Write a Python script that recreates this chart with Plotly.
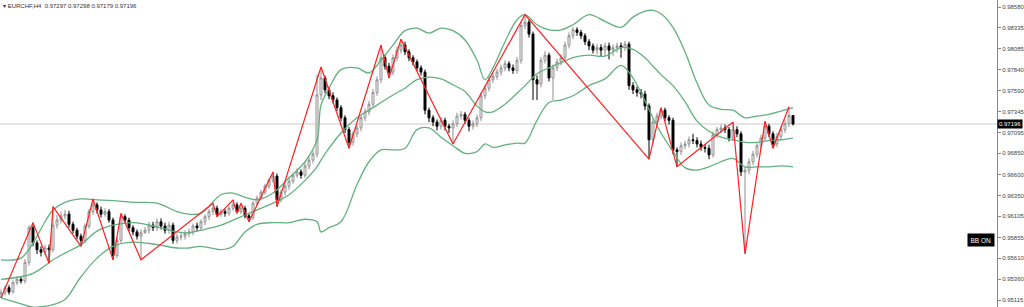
import plotly.graph_objects as go

# ---- candle data (price x 10000), one entry per H4 bar ----
first_open = 9515
closes = [9520, 9526, 9521, 9532, 9536, 9534, 9556, 9597, 9579, 9571,
          9568, 9573, 9571, 9600, 9606, 9611, 9613, 9601, 9594, 9587,
          9582, 9599, 9616, 9624, 9618, 9613, 9616, 9606, 9564, 9582,
          9610, 9606, 9597, 9592, 9587, 9591, 9594, 9600, 9597, 9604,
          9599, 9594, 9600, 9582, 9586, 9587, 9590, 9592, 9599, 9597,
          9604, 9610, 9616, 9620, 9613, 9616, 9614, 9620, 9624, 9616,
          9620, 9611, 9609, 9626, 9632, 9639, 9646, 9653, 9658, 9630,
          9639, 9646, 9652, 9659, 9663, 9659, 9670, 9677, 9684, 9754,
          9774, 9760, 9753, 9748, 9739, 9727, 9713, 9698, 9708, 9715,
          9727, 9734, 9743, 9757, 9772, 9798, 9788, 9781, 9798, 9807,
          9813, 9805, 9798, 9793, 9786, 9781, 9736, 9727, 9722, 9717,
          9724, 9717, 9715, 9720, 9729, 9731, 9724, 9717, 9720, 9727,
          9753, 9762, 9772, 9776, 9781, 9786, 9791, 9786, 9783, 9795,
          9836, 9840, 9826, 9772, 9767, 9795, 9801, 9774, 9786, 9793,
          9798, 9813, 9824, 9831, 9828, 9824, 9817, 9812, 9807, 9810,
          9807, 9812, 9807, 9810, 9812, 9810, 9814, 9765, 9760, 9757,
          9755, 9741, 9701, 9722, 9729, 9736, 9727, 9724, 9689, 9687,
          9694, 9696, 9701, 9700, 9696, 9692, 9691, 9683, 9707, 9713,
          9715, 9713, 9703, 9713, 9708, 9663, 9665, 9675, 9684, 9694,
          9703, 9717, 9708, 9696, 9705, 9713, 9720, 9729.7, 9719.6]
highs = [9524, 9529, 9529, 9535, 9540, 9540, 9560, 9600, 9603, 9582,
         9575, 9577, 9577, 9622, 9612, 9616, 9618, 9617, 9604, 9597,
         9590, 9602, 9619, 9631, 9627, 9622, 9620, 9619, 9609, 9586,
         9614, 9613, 9609, 9600, 9595, 9595, 9598, 9604, 9604, 9608,
         9608, 9603, 9604, 9603, 9590, 9592, 9594, 9596, 9602, 9603,
         9607, 9613, 9619, 9626, 9623, 9619, 9619, 9623, 9630, 9627,
         9626, 9623, 9614, 9629, 9635, 9642, 9649, 9656, 9663, 9661,
         9642, 9649, 9656, 9662, 9667, 9666, 9674, 9681, 9688, 9778,
         9787, 9777, 9764, 9757, 9751, 9742, 9730, 9716, 9711, 9718,
         9730, 9738, 9747, 9761, 9776, 9813, 9802, 9792, 9802, 9811,
         9820, 9817, 9808, 9801, 9796, 9789, 9784, 9739, 9730, 9725,
         9728, 9727, 9720, 9724, 9733, 9735, 9734, 9727, 9724, 9731,
         9757, 9766, 9776, 9780, 9785, 9790, 9795, 9794, 9790, 9799,
         9840, 9849, 9843, 9829, 9777, 9799, 9806, 9804, 9790, 9797,
         9802, 9817, 9828, 9834, 9834, 9831, 9827, 9820, 9815, 9814,
         9814, 9816, 9816, 9814, 9816, 9816, 9818, 9817, 9769, 9764,
         9761, 9759, 9744, 9726, 9733, 9739, 9739, 9730, 9727, 9692,
         9698, 9700, 9705, 9708, 9704, 9700, 9696, 9695, 9711, 9716,
         9719, 9719, 9716, 9722, 9717, 9711, 9669, 9679, 9688, 9697,
         9707, 9723, 9720, 9711, 9709, 9717, 9724, 9740, 9729.8]
lows = [9514, 9517, 9518, 9519, 9529, 9531, 9531, 9552, 9575, 9566,
        9563, 9564, 9555, 9568, 9596, 9602, 9607, 9597, 9590, 9583,
        9575, 9579, 9596, 9612, 9614, 9609, 9610, 9603, 9559, 9561,
        9579, 9602, 9593, 9588, 9583, 9559, 9590, 9590, 9593, 9593,
        9595, 9590, 9590, 9578, 9578, 9582, 9583, 9586, 9588, 9593,
        9593, 9600, 9606, 9612, 9610, 9610, 9610, 9611, 9617, 9614,
        9613, 9608, 9604, 9606, 9623, 9629, 9636, 9643, 9650, 9622,
        9627, 9635, 9642, 9649, 9656, 9655, 9656, 9666, 9673, 9680,
        9748, 9756, 9749, 9744, 9735, 9723, 9709, 9691, 9694, 9704,
        9711, 9723, 9730, 9740, 9753, 9768, 9784, 9774, 9777, 9794,
        9803, 9801, 9794, 9789, 9782, 9777, 9731, 9722, 9717, 9712,
        9713, 9712, 9709, 9696, 9716, 9725, 9720, 9711, 9713, 9716,
        9723, 9749, 9758, 9768, 9772, 9777, 9782, 9782, 9779, 9779,
        9791, 9832, 9822, 9748, 9748, 9763, 9791, 9770, 9748, 9782,
        9789, 9794, 9809, 9820, 9824, 9820, 9813, 9807, 9803, 9802,
        9800, 9800, 9796, 9800, 9804, 9798, 9806, 9760, 9755, 9752,
        9750, 9736, 9678, 9696, 9718, 9725, 9723, 9719, 9684, 9669,
        9683, 9690, 9692, 9696, 9692, 9688, 9686, 9678, 9680, 9703,
        9709, 9709, 9699, 9700, 9704, 9658, 9566, 9660, 9671, 9680,
        9690, 9700, 9704, 9691, 9692, 9701, 9709, 9716, 9717.9]

# ---- ZigZag pivots (bar index, price x 10000) ----
zz_idx = [0, 8, 12, 13, 20, 23, 28, 30, 35, 53, 54, 58, 59, 60, 62, 68, 69,
          80, 87, 95, 97, 100, 113, 131, 162, 165, 169, 183, 186, 191, 193, 197]
zz_price = [9514, 9603, 9555, 9622, 9575, 9631, 9559, 9614, 9559, 9626, 9610,
            9630, 9614, 9626, 9604, 9663, 9622, 9787, 9691, 9813, 9774, 9820,
            9696, 9849, 9678, 9739, 9669, 9722, 9566, 9723, 9691, 9740]

# ---- Bollinger bands sampled at bar indices (price x 10000) ----
bb_idx = [0, 5, 8, 11, 13, 16, 20, 24, 28, 33, 39, 44, 47, 50, 55, 58, 61, 64,
          68, 72, 76, 79, 80, 82, 85, 89, 92, 95, 98, 101, 104, 107, 110, 113,
          116, 119, 121, 123, 126, 129, 131, 134, 137, 140, 143, 147, 151, 155,
          158, 161, 163, 165, 168, 171, 174, 177, 180, 183, 186, 189, 192, 195, 198]
bb_upper = [9559, 9561, 9579, 9604, 9618, 9627, 9631, 9630, 9629, 9627, 9626,
            9616, 9613, 9614, 9636, 9638, 9633, 9630, 9638, 9656, 9675, 9701,
            9742, 9762, 9784, 9786, 9780, 9795, 9813, 9830, 9833, 9827, 9833,
            9830, 9819, 9795, 9772, 9786, 9817, 9843, 9849, 9837, 9831, 9831,
            9837, 9849, 9841, 9834, 9846, 9853, 9854, 9850, 9834, 9805, 9768,
            9742, 9737, 9736, 9727, 9729, 9731, 9735, 9739]
bb_middle = [9536, 9539, 9543, 9552, 9559, 9567, 9577, 9593, 9600, 9603, 9598,
             9592, 9591, 9594, 9600, 9606, 9612, 9618, 9626, 9636, 9653, 9669,
             9677, 9691, 9709, 9727, 9736, 9745, 9754, 9762, 9772, 9775, 9773,
             9766, 9758, 9741, 9734, 9734, 9743, 9756, 9765, 9779, 9786, 9792,
             9798, 9801, 9800, 9810, 9808, 9798, 9788, 9778, 9765, 9746, 9723,
             9711, 9704, 9701, 9698, 9698, 9700, 9701, 9703]
bb_lower = [9514, 9507, 9503, 9504, 9506, 9512, 9539, 9561, 9575, 9580, 9577,
            9573, 9573, 9575, 9571, 9575, 9592, 9601, 9603, 9603, 9607, 9604,
            9592, 9597, 9604, 9648, 9675, 9689, 9689, 9691, 9713, 9715, 9704,
            9694, 9685, 9687, 9696, 9692, 9695, 9697, 9697, 9724, 9745, 9748,
            9753, 9765, 9773, 9789, 9774, 9747, 9727, 9709, 9687, 9668, 9665,
            9669, 9675, 9679, 9669, 9669, 9669, 9670, 9669]

# ---- axis ticks / labels ----
tick_values = [0.98580, 0.98335, 0.98085, 0.97840, 0.97590, 0.97345, 0.97095,
               0.96850, 0.96600, 0.96350, 0.96105, 0.95855, 0.95610, 0.95360, 0.95115]
symbol = "EURCHF,H4"
last_open, last_high, last_low, last_close = 0.97297, 0.97298, 0.97179, 0.97196

S = 1e-4
opens = [first_open] + closes[:-1]
idx = list(range(len(closes)))

fig = go.Figure()

band_color = "#62b17f"
for vals in (bb_upper, bb_middle, bb_lower):
    fig.add_trace(go.Scatter(x=bb_idx, y=[v * S for v in vals], mode="lines",
                             line=dict(color=band_color, width=1.3, shape="spline", smoothing=1.0),
                             hoverinfo="skip", showlegend=False))

fig.add_trace(go.Candlestick(
    x=idx,
    open=[v * S for v in opens], high=[v * S for v in highs],
    low=[v * S for v in lows], close=[v * S for v in closes],
    increasing=dict(line=dict(color="#8f8f8f", width=1), fillcolor="#ffffff"),
    decreasing=dict(line=dict(color="#000000", width=1), fillcolor="#000000"),
    whiskerwidth=0, showlegend=False, hoverinfo="skip"))

fig.add_trace(go.Scatter(x=zz_idx, y=[v * S for v in zz_price], mode="lines",
                         line=dict(color="#ff2020", width=1.2),
                         hoverinfo="skip", showlegend=False))

fig.add_shape(type="line", xref="paper", x0=0, x1=1, yref="y",
              y0=last_close, y1=last_close, line=dict(color="#cccccc", width=1), layer="below")

fig.update_layout(
    width=1024, height=307,
    margin=dict(l=0, r=27, t=0, b=0),
    paper_bgcolor="white", plot_bgcolor="white",
    font=dict(family="Liberation Sans", size=6, color="#444444"),
    xaxis=dict(range=[-0.25, 249.0], showgrid=False, zeroline=False,
               showticklabels=False, rangeslider=dict(visible=False), fixedrange=True),
    yaxis=dict(range=[0.950322, 0.986628], side="right", showgrid=False, zeroline=False,
               tickvals=tick_values, ticktext=[f"{v:.5f}" for v in tick_values],
               ticks="outside", ticklen=3, tickcolor="#888888",
               showline=True, linecolor="#888888", linewidth=1,
               tickfont=dict(size=6, color="#444444"), fixedrange=True),
    annotations=[
        dict(xref="paper", yref="paper", x=0.001, y=0.998, xanchor="left", yanchor="top",
             text=f"▾ {symbol}  {last_open:.5f} {last_high:.5f} {last_low:.5f} {last_close:.5f}",
             showarrow=False, font=dict(size=6, color="#333333")),
        dict(xref="paper", yref="y", x=1.0, y=last_close, xanchor="left", yanchor="middle",
             text=f"{last_close:.5f}", showarrow=False, bgcolor="#000000",
             font=dict(size=6, color="#ffffff"), borderpad=1),
        dict(xref="paper", yref="y", x=0.998, y=0.95819, xanchor="right", yanchor="middle",
             text="BB ON", showarrow=False, bgcolor="#000000",
             font=dict(size=6.5, color="#ffffff"), borderpad=2.5),
    ],
)

fig.write_html("out.html")
